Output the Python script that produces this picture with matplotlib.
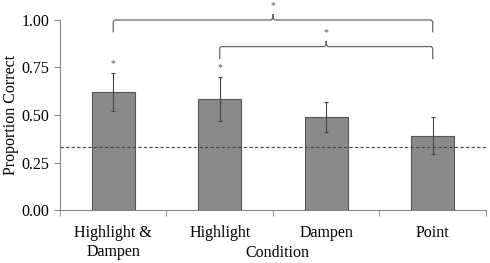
import numpy as np
from matplotlib import pyplot as plt
from matplotlib.path import Path
from matplotlib.patches import PathPatch

conditions = ["Highlight &\nDampen", "Highlight", "Dampen", "Point"]
means = [0.62, 0.585, 0.488, 0.391]
errors = [0.10, 0.115, 0.08, 0.098]
chance = 0.33
# asterisks above single bars
star_bars = [0, 1]
star_y = [0.77, 0.75]
# comparison brackets: (from bar, to bar, height)
brackets = [(0, 3, 1.0), (1, 3, 0.86)]

plt.rcParams['font.family'] = ['Liberation Serif', 'DejaVu Serif']
plt.rcParams['font.size'] = 11.5

fig = plt.figure(figsize=(4.9, 2.63), dpi=100)
ax = fig.add_axes([0.1224, 0.2015, 0.8694, 0.7225])

x = np.arange(len(conditions))
ax.bar(x, means, width=0.4, color='#8a8a8a', edgecolor='#555555', linewidth=0.8, zorder=2)
ax.errorbar(x, means, yerr=errors, fmt='none', ecolor='#444444', elinewidth=0.8,
            capsize=1.5, capthick=0.8, zorder=3)
ax.axhline(chance, color='#444444', linestyle=(0, (3, 2)), linewidth=0.8, zorder=4)

for b, yy in zip(star_bars, star_y):
    ax.text(x[b], yy, '*', ha='center', va='center', fontsize=7, color='#555555')

for a, b, h in brackets:
    drop = 0.065
    r = 0.02
    mid = (x[a] + x[b]) / 2
    verts = [(x[a], h - drop), (x[a], h - 0.015), (x[a], h), (x[a] + r, h),
             (mid - 0.02, h), (mid, h), (mid, h + 0.03),
             (mid, h), (mid + 0.02, h),
             (x[b] - r, h), (x[b], h), (x[b], h - 0.015), (x[b], h - drop)]
    codes = [Path.MOVETO, Path.LINETO, Path.CURVE3, Path.CURVE3,
             Path.LINETO, Path.CURVE3, Path.CURVE3,
             Path.CURVE3, Path.CURVE3,
             Path.LINETO, Path.CURVE3, Path.CURVE3, Path.LINETO]
    ax.add_patch(PathPatch(Path(verts, codes), fill=False, edgecolor='#666666',
                           linewidth=0.9, clip_on=False))
    ax.text(mid, h + 0.075, '*', ha='center', va='center', fontsize=7, color='#555555')

ax.set_xlim(-0.5, 3.5)
ax.set_ylim(0, 1.0)
ax.set_xticks(x)
ax.set_xticklabels(conditions)
ax.set_xticks(np.arange(-0.5, 4, 1), minor=True)
ax.tick_params(axis='x', which='major', length=0, pad=11)
ax.tick_params(axis='x', which='minor', length=4, color='#888888')
ax.set_yticks([0, 0.25, 0.5, 0.75, 1.0])
ax.set_yticklabels(['0.00', '0.25', '0.50', '0.75', '1.00'])
ax.tick_params(axis='y', length=4, color='#888888')

for s in ['top', 'right']:
    ax.spines[s].set_visible(False)
for s in ['left', 'bottom']:
    ax.spines[s].set_color('#888888')

ax.set_ylabel("Proportion Correct", labelpad=2)
ax.set_xlabel("Condition")
ax.xaxis.set_label_coords(0.51, -0.185)

plt.savefig("out.png", dpi=100)
